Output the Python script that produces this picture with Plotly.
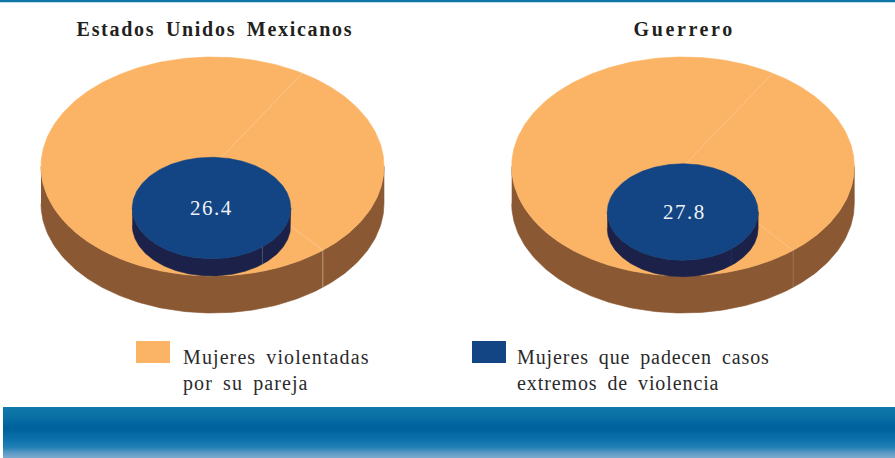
import json
import numpy as np
import plotly.graph_objects as go

regions = ["Estados Unidos Mexicanos", "Guerrero"]
extreme_values = [26.4, 27.8]
outer_wedge_share = [30.1, 30.1]
wedge_start_deg = [58.4, 58.4]
legend_labels = ["Mujeres violentadas<br>por su pareja", "Mujeres que padecen casos<br>extremos de violencia"]

ORANGE, BROWN, NAVY, DARK = "#FBB465", "#8A5832", "#134483", "#1B2149"
W, H = 895, 458
FONT = "Liberation Serif"

# layout geometry of each 3-D disc (pixels)
outer_geom = [dict(cx=212.5, cy=166.5, rx=171.5, ry=109.5, d=37),
              dict(cx=683.0, cy=166.5, rx=171.3, ry=109.5, d=37)]
inner_geom = [dict(cx=211.5, cy=208.0, rx=79.2, ry=50.7, d=17.3),
              dict(cx=682.7, cy=212.0, rx=75.4, ry=48.2, d=16.5)]
seam_styles = [dict(top="#FCCB96", side="#C9AC92", inner="#5B5D78"),
               dict(top="#FCC690", side="#A67C5A", inner="#2A3060")]

fig = go.Figure()


def pt(g, deg, drop=0.0):
    a = np.radians(deg)
    return g["cx"] + g["rx"] * np.cos(a), g["cy"] - g["ry"] * np.sin(a) + drop


def poly(x, y, color):
    fig.add_trace(go.Scatter(x=x, y=y, mode="lines", fill="toself", fillcolor=color,
                             line=dict(width=0.6, color=color), hoverinfo="skip", showlegend=False))


def seg(x, y, color, w=0.8):
    fig.add_trace(go.Scatter(x=x, y=y, mode="lines", line=dict(color=color, width=w),
                             hoverinfo="skip", showlegend=False))


def disc(g, top, side):
    t = np.linspace(180, 360, 181)
    x1, y1 = pt(g, t)
    x2, y2 = pt(g, t[::-1], g["d"])
    poly(np.r_[x1, x2], np.r_[y1, y2], side)
    t = np.linspace(0, 360, 361)
    x, y = pt(g, t)
    poly(x, y, top)


for i, region in enumerate(regions):
    og, ig, st = outer_geom[i], inner_geom[i], seam_styles[i]
    a0 = wedge_start_deg[i]
    a1 = a0 - outer_wedge_share[i] * 3.6
    disc(og, ORANGE, BROWN)
    for a in (a0, a1):
        ex, ey = pt(og, a)
        seg([og["cx"], ex], [og["cy"], ey], st["top"])
    ex, ey = pt(og, a1)
    seg([ex, ex], [ey, ey + og["d"]], st["side"])
    disc(ig, NAVY, DARK)
    ex, ey = pt(ig, a1)
    seg([ex, ex], [ey, ey + ig["d"]], st["inner"])

annotations = []
spacing = []
title_track = [1.7, 2.6]
legend_track = [1.1, 0.9]
for i, region in enumerate(regions):
    annotations.append(dict(x=[215, 684][i], y=29, text=f"<b>{region}</b>", showarrow=False,
                            xanchor="center", yanchor="middle",
                            font=dict(family=FONT, size=20, color="#231F20")))
    spacing.append(title_track[i])
    annotations.append(dict(x=[211, 684.5][i], y=[208, 212][i], text=f"{extreme_values[i]:.1f}", showarrow=False,
                            xanchor="center", yanchor="middle",
                            font=dict(family=FONT, size=21, color="#EEF1F6")))
    spacing.append(1.5)
    annotations.append(dict(x=[181, 515][i], y=370, text=legend_labels[i], showarrow=False,
                            xanchor="left", yanchor="middle", align="left",
                            font=dict(family=FONT, size=20, color="#2B2A2C")))
    spacing.append(legend_track[i])

# decorative bands and legend keys
stops_y = [407, 415, 428, 438, 447, 452, 458]
stops_c = [(18, 121, 173), (11, 114, 166), (0, 97, 157), (10, 111, 168), (32, 128, 181), (85, 150, 195), (123, 170, 208)]
shapes = [dict(type="rect", x0=0, x1=W, y0=0, y1=2.3, fillcolor="#0F74A9", line_width=0, layer="below")]
for y in range(407, 458):
    c = [int(np.interp(y + .5, stops_y, [s[k] for s in stops_c])) for k in range(3)]
    shapes.append(dict(type="rect", x0=3, x1=W, y0=y, y1=y + 1.2, fillcolor=f"rgb({c[0]},{c[1]},{c[2]})",
                       line_width=0, layer="below"))
shapes.append(dict(type="rect", x0=136, x1=170, y0=341, y1=363, fillcolor=ORANGE, line_width=0, layer="below"))
shapes.append(dict(type="rect", x0=472, x1=506, y0=341, y1=363, fillcolor=NAVY, line_width=0, layer="below"))

fig.update_layout(width=W, height=H, margin=dict(l=0, r=0, t=0, b=0), paper_bgcolor="white", plot_bgcolor="white",
                  xaxis=dict(range=[0, W], visible=False, fixedrange=True),
                  yaxis=dict(range=[H, 0], visible=False, fixedrange=True),
                  showlegend=False, annotations=annotations, shapes=shapes, hovermode=False)

spacing_js = """
document.documentElement.style.margin='0';
document.body.style.margin='0';
document.body.style.overflow='hidden';
var track = %s;
document.querySelectorAll('.annotation-text').forEach(function(t, i){
  t.style.letterSpacing = track[i] + 'px'; t.style.wordSpacing = '4px';
});
""" % json.dumps(spacing)
fig.write_html("out.html", post_script=spacing_js, config=dict(displayModeBar=False))
